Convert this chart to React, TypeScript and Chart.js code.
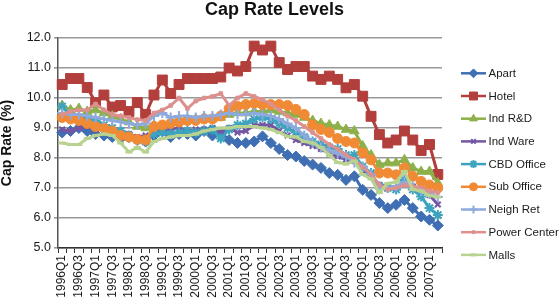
import React, { useEffect, useRef } from "react";
import { Chart, registerables } from "chart.js";
import { drawPoint } from "chart.js/helpers";

Chart.register(...registerables);

const quarters = [
  "1996Q1", "1996Q2", "1996Q3", "1996Q4",
  "1997Q1", "1997Q2", "1997Q3", "1997Q4",
  "1998Q1", "1998Q2", "1998Q3", "1998Q4",
  "1999Q1", "1999Q2", "1999Q3", "1999Q4",
  "2000Q1", "2000Q2", "2000Q3", "2000Q4",
  "2001Q1", "2001Q2", "2001Q3", "2001Q4",
  "2002Q1", "2002Q2", "2002Q3", "2002Q4",
  "2003Q1", "2003Q2", "2003Q3", "2003Q4",
  "2004Q1", "2004Q2", "2004Q3", "2004Q4",
  "2005Q1", "2005Q2", "2005Q3", "2005Q4",
  "2006Q1", "2006Q2", "2006Q3", "2006Q4",
  "2007Q1", "2007Q2",
];

const yTicks = [5, 6, 7, 8, 9, 10, 11, 12];

const apart = [
  8.85, 8.9, 9.0, 8.9, 8.8, 8.75, 8.7, 8.65, 8.7, 8.6,
  8.55, 8.75, 8.9, 8.7, 8.8, 8.8, 8.75, 8.9, 8.75, 8.85,
  8.6, 8.5, 8.5, 8.55, 8.72, 8.5, 8.3, 8.1, 8.05, 7.9,
  7.78, 7.67, 7.5, 7.44, 7.27, 7.39, 6.94, 6.77, 6.5, 6.33,
  6.44, 6.6, 6.33, 6.05, 5.94, 5.75,
];
const hotel = [
  10.45, 10.65, 10.65, 10.35, 9.85, 10.1, 9.7, 9.75, 9.55, 9.85,
  9.45, 10.1, 10.6, 10.15, 10.45, 10.65, 10.65, 10.65, 10.65, 10.7,
  11.0, 10.9, 11.05, 11.73, 11.6, 11.73, 11.18, 10.95, 11.05, 11.05,
  10.73, 10.62, 10.73, 10.62, 10.34, 10.45, 10.06, 9.39, 8.78, 8.5,
  8.6, 8.9, 8.6, 8.25, 8.45, 7.45,
];
const indRD = [
  9.75, 9.6, 9.65, 9.55, 9.6, 9.5, 9.4, 9.3, 9.2, 9.05,
  9.0, 9.1, 9.05, 9.2, 9.25, 9.3, 9.3, 9.35, 9.3, 9.35,
  9.45, 9.5, 9.5, 9.55, 9.55, 9.6, 9.55, 9.5, 9.45, 9.35,
  9.25, 9.15, 9.1, 9.05, 8.95, 8.9, 8.4, 8.1, 7.78, 7.83,
  7.83, 7.94, 7.67, 7.55, 7.55, 7.17,
];
const indWare = [
  8.95, 8.9, 9.0, 9.05, 8.95, 8.95, 8.9, 8.85, 8.8, 8.7,
  8.75, 8.85, 8.9, 8.95, 9.0, 8.9, 8.95, 8.95, 9.0, 8.9,
  9.0, 8.85, 8.9, 9.1, 9.1, 9.1, 8.9, 8.75, 8.6, 8.5,
  8.4, 8.3, 8.15, 8.05, 7.95, 7.9, 7.55, 7.4, 7.1, 7.05,
  7.0, 7.27, 7.05, 6.95, 6.77, 6.45,
];
const cbdOffice = [
  9.72, 9.4, 9.35, 9.3, 9.25, 9.1, 9.0, 8.9, 8.75, 8.6,
  8.55, 8.8, 8.85, 8.8, 8.85, 8.9, 8.85, 8.9, 8.95, 8.65,
  8.95, 9.1, 9.15, 9.3, 9.35, 9.3, 9.15, 9.0, 8.85, 8.7,
  8.55, 8.45, 8.35, 8.3, 8.1, 8.1, 7.72, 7.5, 7.05, 7.0,
  6.95, 7.27, 6.95, 6.72, 6.33, 6.1,
];
const subOffice = [
  9.35, 9.3, 9.25, 9.15, 9.05, 9.0, 8.9, 8.75, 8.7, 8.62,
  8.6, 9.05, 9.1, 9.15, 9.2, 9.25, 9.25, 9.3, 9.3, 9.4,
  9.65, 9.72, 9.78, 9.82, 9.78, 9.78, 9.78, 9.75, 9.62, 9.45,
  9.1, 8.95, 8.85, 8.65, 8.55, 8.5, 8.17, 7.94, 7.5, 7.5,
  7.44, 7.67, 7.39, 7.22, 7.1, 7.0,
];
const neighRet = [
  9.5, 9.45, 9.45, 9.4, 9.35, 9.3, 9.25, 9.2, 9.15, 9.1,
  9.15, 9.4, 9.5, 9.35, 9.4, 9.4, 9.35, 9.4, 9.4, 9.45,
  9.5, 9.45, 9.45, 9.5, 9.45, 9.4, 9.3, 9.15, 9.0, 8.75,
  8.5, 8.35, 8.25, 8.15, 8.05, 7.85, 7.7, 7.45, 7.05, 7.0,
  7.05, 7.2, 7.05, 6.9, 6.8, 6.7,
];
const powerCenter = [
  9.45, 9.55, 9.6, 9.6, 9.8, 9.6, 9.45, 9.4, 9.35, 9.28,
  9.25, 9.5, 9.6, 9.75, 10.0, 9.65, 9.9, 10.0, 10.05, 10.15,
  9.75, 10.0, 10.15, 10.05, 9.95, 9.8, 9.6, 9.4, 9.25, 9.05,
  8.85, 8.65, 8.45, 8.3, 8.1, 7.95, 7.7, 7.45, 7.1, 6.95,
  7.0, 7.1, 7.05, 7.0, 6.9, 6.85,
];
const malls = [
  8.5, 8.45, 8.45, 8.65, 8.75, 8.8, 8.75, 8.5, 8.2, 8.35,
  8.2, 8.55, 8.65, 8.7, 8.75, 8.75, 8.8, 8.9, 8.95, 9.0,
  9.0, 9.05, 9.05, 9.05, 9.0, 8.95, 8.85, 8.72, 8.7, 8.55,
  8.5, 8.35, 8.1, 7.85, 7.8, 7.9, 7.45, 7.3, 6.85, 7.15,
  7.2, 7.55, 6.95, 6.9, 6.75, 6.7,
];

const seriesNames = [
  "Apart", "Hotel", "Ind R&D", "Ind Ware", "CBD Office",
  "Sub Office", "Neigh Ret", "Power Center", "Malls",
];
const seriesValues = [
  apart, hotel, indRD, indWare, cbdOffice, subOffice, neighRet, powerCenter, malls,
];
const seriesColors = [
  "#3F6FB2", "#B23F3C", "#8DB04A", "#7556A3", "#3DA3BF",
  "#F08A35", "#8EAADC", "#DC918F", "#B8D390",
];
const seriesMarkers = [
  "rectRot", "rect", "triangle", "crossRot", "star",
  "circle", "cross", "rect", "line",
];
const markerRadius = [5.5, 7, 5.5, 4, 5, 5, 5, 2.5, 3.5];
const markerBorder = [1, 1, 1, 2, 2, 1, 2, 1, 3];

const FONT = '"Liberation Sans", Arial, Helvetica, sans-serif';

const titlePlugin = {
  id: "excelTitle",
  afterDraw(chart: any) {
    const ctx = chart.ctx;
    ctx.save();
    ctx.font = `bold 18px ${FONT}`;
    ctx.fillStyle = "#111";
    ctx.textAlign = "center";
    ctx.textBaseline = "alphabetic";
    ctx.fillText("Cap Rate Levels", 274.5, 15);
    ctx.restore();
  },
};

const legendPlugin = {
  id: "excelLegend",
  afterDraw(chart: any) {
    const ctx = chart.ctx;
    const top = 73.3;
    const step = 22.7;
    ctx.save();
    chart.data.datasets.forEach((ds: any, k: number) => {
      const y = top + k * step;
      ctx.strokeStyle = ds.borderColor;
      ctx.lineWidth = 2.5;
      ctx.beginPath();
      ctx.moveTo(461, y);
      ctx.lineTo(486, y);
      ctx.stroke();
      ctx.fillStyle = ds.pointBackgroundColor;
      ctx.strokeStyle = ds.pointBorderColor;
      ctx.lineWidth = ds.pointBorderWidth;
      drawPoint(
        ctx,
        {
          pointStyle: ds.pointStyle,
          radius: ds.pointRadius * 0.8,
          borderWidth: ds.pointBorderWidth,
          rotation: 0,
        } as any,
        473.5,
        y
      );
      ctx.fillStyle = "#1a1a1a";
      ctx.font = `11.5px ${FONT}`;
      ctx.textAlign = "left";
      ctx.textBaseline = "middle";
      ctx.fillText(ds.label, 488.5, y + 0.5);
    });
    ctx.restore();
  },
};

export default function App() {
  const canvasRef = useRef<HTMLCanvasElement | null>(null);

  useEffect(() => {
    if (!canvasRef.current) return;
    Chart.defaults.font.family = FONT;
    const datasets = seriesNames.map((name, k) => ({
      label: name,
      data: seriesValues[k],
      borderColor: seriesColors[k],
      backgroundColor: seriesColors[k],
      pointBackgroundColor: seriesColors[k],
      pointBorderColor: seriesColors[k],
      pointStyle: seriesMarkers[k],
      pointRadius: markerRadius[k],
      pointBorderWidth: markerBorder[k],
      borderWidth: 3,
      tension: 0,
      fill: false,
      order: seriesNames.length - k,
    }));

    const chart = new Chart(canvasRef.current, {
      type: "line",
      data: { labels: quarters, datasets },
      options: {
        animation: false,
        responsive: false,
        maintainAspectRatio: false,
        layout: { padding: { top: 38, right: 117, bottom: 0, left: 0 } },
        plugins: {
          legend: { display: false },
          title: { display: false },
          tooltip: { enabled: false },
        },
        scales: {
          x: {
            type: "category",
            offset: true,
            afterFit: (s: any) => {
              s.height = 51;
            },
            grid: {
              display: true,
              offset: true,
              drawOnChartArea: false,
              drawTicks: true,
              tickLength: 5,
              color: "#333",
              lineWidth: 1,
            },
            border: { display: true, color: "#333", width: 1.5 },
            ticks: {
              autoSkip: false,
              maxRotation: 90,
              minRotation: 90,
              padding: 2,
              color: "#1a1a1a",
              font: { size: 12, family: FONT },
              callback: (_v: any, i: number) => (i % 2 === 0 ? quarters[i] : ""),
            },
          },
          y: {
            min: yTicks[0],
            max: yTicks[yTicks.length - 1],
            afterFit: (s: any) => {
              s.width = 58;
            },
            afterBuildTicks: (s: any) => {
              s.ticks = yTicks.map((v) => ({ value: v }));
            },
            grid: {
              color: "#999999",
              lineWidth: 1.6,
              drawTicks: true,
              tickLength: 4,
            },
            border: { display: true, color: "#555", width: 1.5 },
            ticks: {
              color: "#1a1a1a",
              padding: 3,
              font: { size: 12.5, family: FONT },
              callback: (v: any) => Number(v).toFixed(1),
            },
            title: {
              display: true,
              text: "Cap Rate (%)",
              color: "#111",
              font: { size: 14, weight: "bold", family: FONT },
              padding: { top: -1, bottom: 0 },
            },
          },
        },
      },
      plugins: [titlePlugin, legendPlugin],
    } as any);

    return () => chart.destroy();
  }, []);

  return (
    <div
      style={{
        position: "fixed",
        left: 0,
        top: 0,
        width: 559,
        height: 299,
        background: "#fff",
        overflow: "hidden",
      }}
    >
      <canvas
        ref={canvasRef}
        width={559}
        height={299}
        style={{ display: "block", width: 559, height: 299 }}
      />
    </div>
  );
}
